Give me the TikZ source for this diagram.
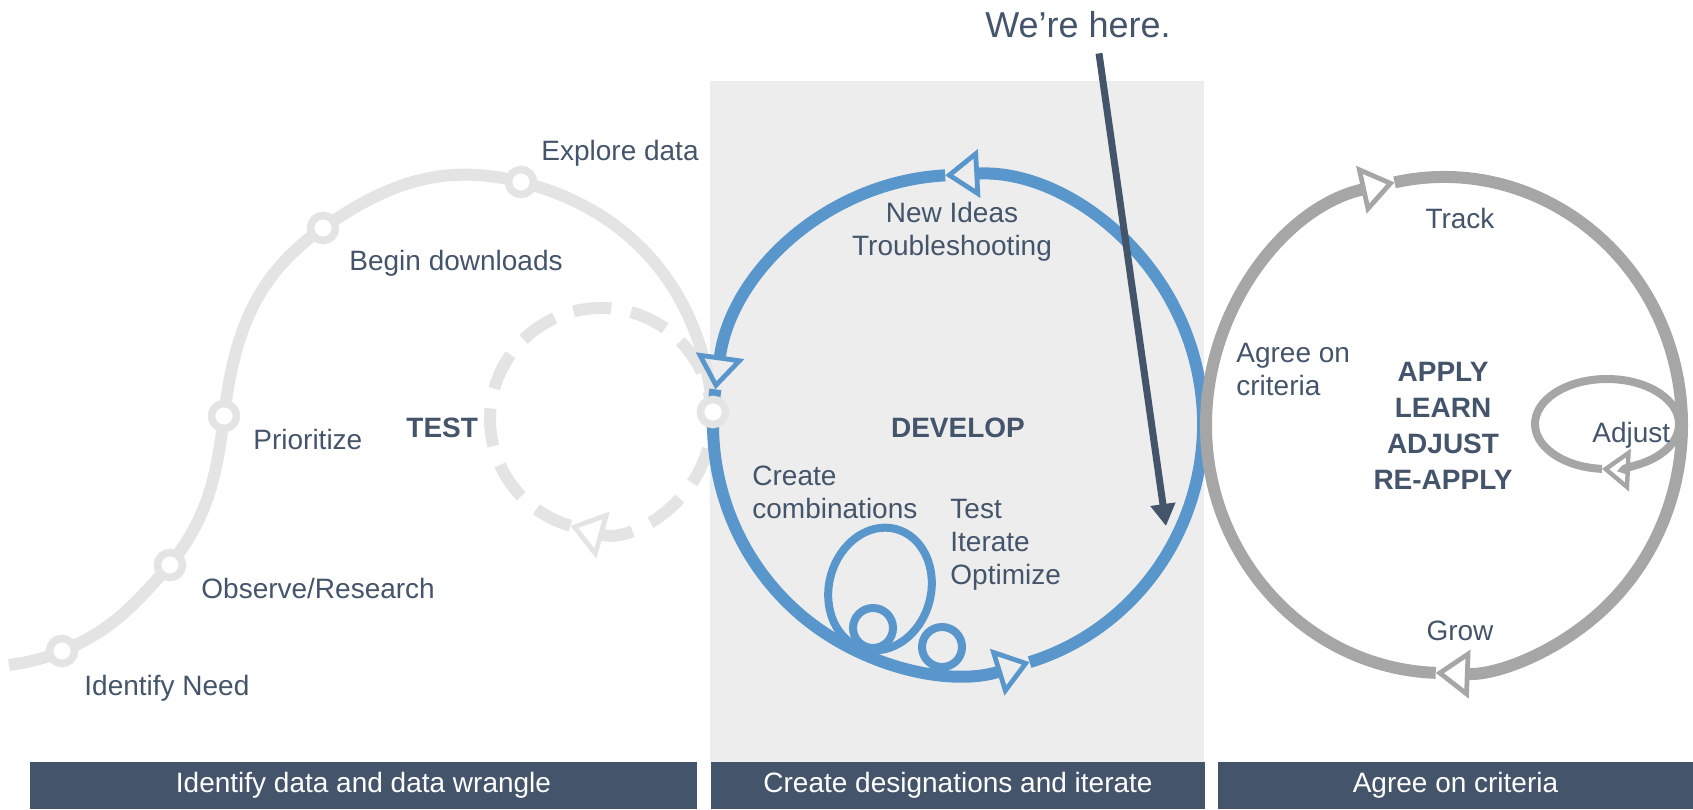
\documentclass[tikz,border=0pt]{standalone}
\usepackage{fontspec}
\setmainfont{Liberation Sans}
\usetikzlibrary{arrows.meta}

\definecolor{slate}{RGB}{68,84,106}
\definecolor{steel}{RGB}{89,150,203}
\definecolor{pale}{RGB}{228,228,228}
\definecolor{ash}{RGB}{166,166,166}
\definecolor{panel}{RGB}{237,237,237}

\tikzset{
  lbl/.style={text=slate, inner sep=0pt, font=\fontsize{14}{16.5}\selectfont},
  tag/.style={lbl, text height=10pt, text depth=0pt},
  caps/.style={lbl, align=center, font=\fontsize{14}{18}\selectfont\bfseries},
  bar/.style={fill=slate, text=white, inner sep=0pt, minimum height=23.5pt, font=\fontsize{14}{16.8}\selectfont},
  trail/.style={pale, line width=6pt},
  stop/.style={circle, draw=pale, fill=white, line width=3.8pt, inner sep=0pt, minimum size=12.5pt},
  ring/.style={line width=6pt},
  coil/.style={steel, line width=4pt},
  opentip/.style={-{Triangle[open, length=17pt, width=24pt, line width=2.4pt]}},
  smalltip/.style={-{Triangle[open, length=14pt, width=21pt, line width=2.2pt]}},
}

\begin{document}
\begin{tikzpicture}[x=0.5pt, y=0.5pt]
\useasboundingbox (0,0) rectangle (1693,809);
% middle panel
\fill[panel] (710,47) rectangle (1204,728);
% phase bars
\node[bar, minimum width=333.5pt] (phase1) at (363.5,23.5) {Identify data and data wrangle};
\node[bar, minimum width=247pt] (phase2) at (958,23.5) {Create designations and iterate};
\node[bar, minimum width=237.5pt] (phase3) at (1455.5,23.5) {Agree on criteria};

% test trail
\coordinate (start) at (9,144);
\coordinate (need) at (62,158);
\coordinate (observe) at (170,244);
\coordinate (prio) at (224,393);
\coordinate (begin) at (323,581);
\coordinate (explore) at (521,627);
\coordinate (handoff) at (713,397);
\draw[trail] (start) to[out=8, in=202] (need) to[out=22, in=228] (observe)
  to[out=52, in=263] (prio) to[out=83, in=215] (begin)
  to[out=35, in=166] (explore) to[out=-14, in=95] (handoff);
\coordinate (testloop) at (601,390);
\draw[trail, dash pattern=on 19pt off 10pt, opentip] (testloop) ++(254:111) arc[start angle=254, end angle=-106, radius=111];

% develop ring
\coordinate (dev) at (958,385);
\foreach \a/\b in {-73/93, 93/172, 172/287}
  \draw[ring, steel, opentip] (dev) ++(\a:245 and 249) arc[start angle=\a, end angle=\b, x radius=245, y radius=249];
\draw[coil, rotate around={-15:(880,220)}] (880,220) ellipse [x radius=51, y radius=62];
\draw[coil] (873,181) circle [radius=20];
\draw[coil] (942,162) circle [radius=20];

% apply ring
\coordinate (apply) at (1444,384);
\foreach \a/\b in {268/102, 102/-92}
  \draw[ring, ash, opentip] (apply) ++(\a:238 and 248) arc[start angle=\a, end angle=\b, x radius=238, y radius=248];
\coordinate (tweak) at (1607,385);
\draw[ash, line width=4pt, smalltip] (tweak) ++(0:72 and 45) arc[start angle=360, end angle=266, x radius=72, y radius=45];
\draw[ash, line width=4pt] (tweak) ++(266:72 and 45) arc[start angle=266, end angle=0, x radius=72, y radius=45];

% stops
\foreach \s in {need, observe, prio, begin, explore, handoff}
  \node[stop] (\s-dot) at (\s) {};

% labels
\node[tag, anchor=west] (needtxt) at (84,123) {Identify Need};
\node[tag, anchor=west] (observetxt) at (201,220) {Observe/Research};
\node[tag, anchor=west] (priotxt) at (253,369) {Prioritize};
\node[tag, anchor=west] (begintxt) at (349,548) {Begin downloads};
\node[tag, anchor=west] (exploretxt) at (541,658) {Explore data};
\node[tag, anchor=west, font=\fontsize{14}{16.8}\selectfont\bfseries] (testtxt) at (406,381) {TEST};

\node[lbl, align=center] (ideas) at (952,577) {New Ideas\\Troubleshooting};
\node[caps] (develop) at (958,381) {DEVELOP};
\node[lbl, align=left, anchor=west] (combine) at (752,317) {Create\\combinations};
\node[lbl, align=left, anchor=west] (iterate) at (950,264) {Test\\Iterate\\Optimize};

\node[tag] (tracktxt) at (1460,590) {Track};
\node[lbl, align=left, anchor=west] (agree) at (1236,439) {Agree on\\criteria};
\node[caps] (cycle) at (1443,383) {APPLY\\LEARN\\ADJUST\\RE-APPLY};
\node[tag, anchor=west] (adjusttxt) at (1592,376) {Adjust};
\node[tag] (growtxt) at (1460,178) {Grow};

% where we are
\node[lbl, font=\fontsize{18}{21}\selectfont, text height=13pt, text depth=0pt] (here) at (1078,784) {We’re here.};
\coordinate (spot) at (1166,283);
\draw[slate, line width=3.5pt, -{Triangle[length=11pt, width=12pt]}] ([xshift=10.5pt, yshift=-7.5pt]here.south) -- (spot);
\end{tikzpicture}
\end{document}
